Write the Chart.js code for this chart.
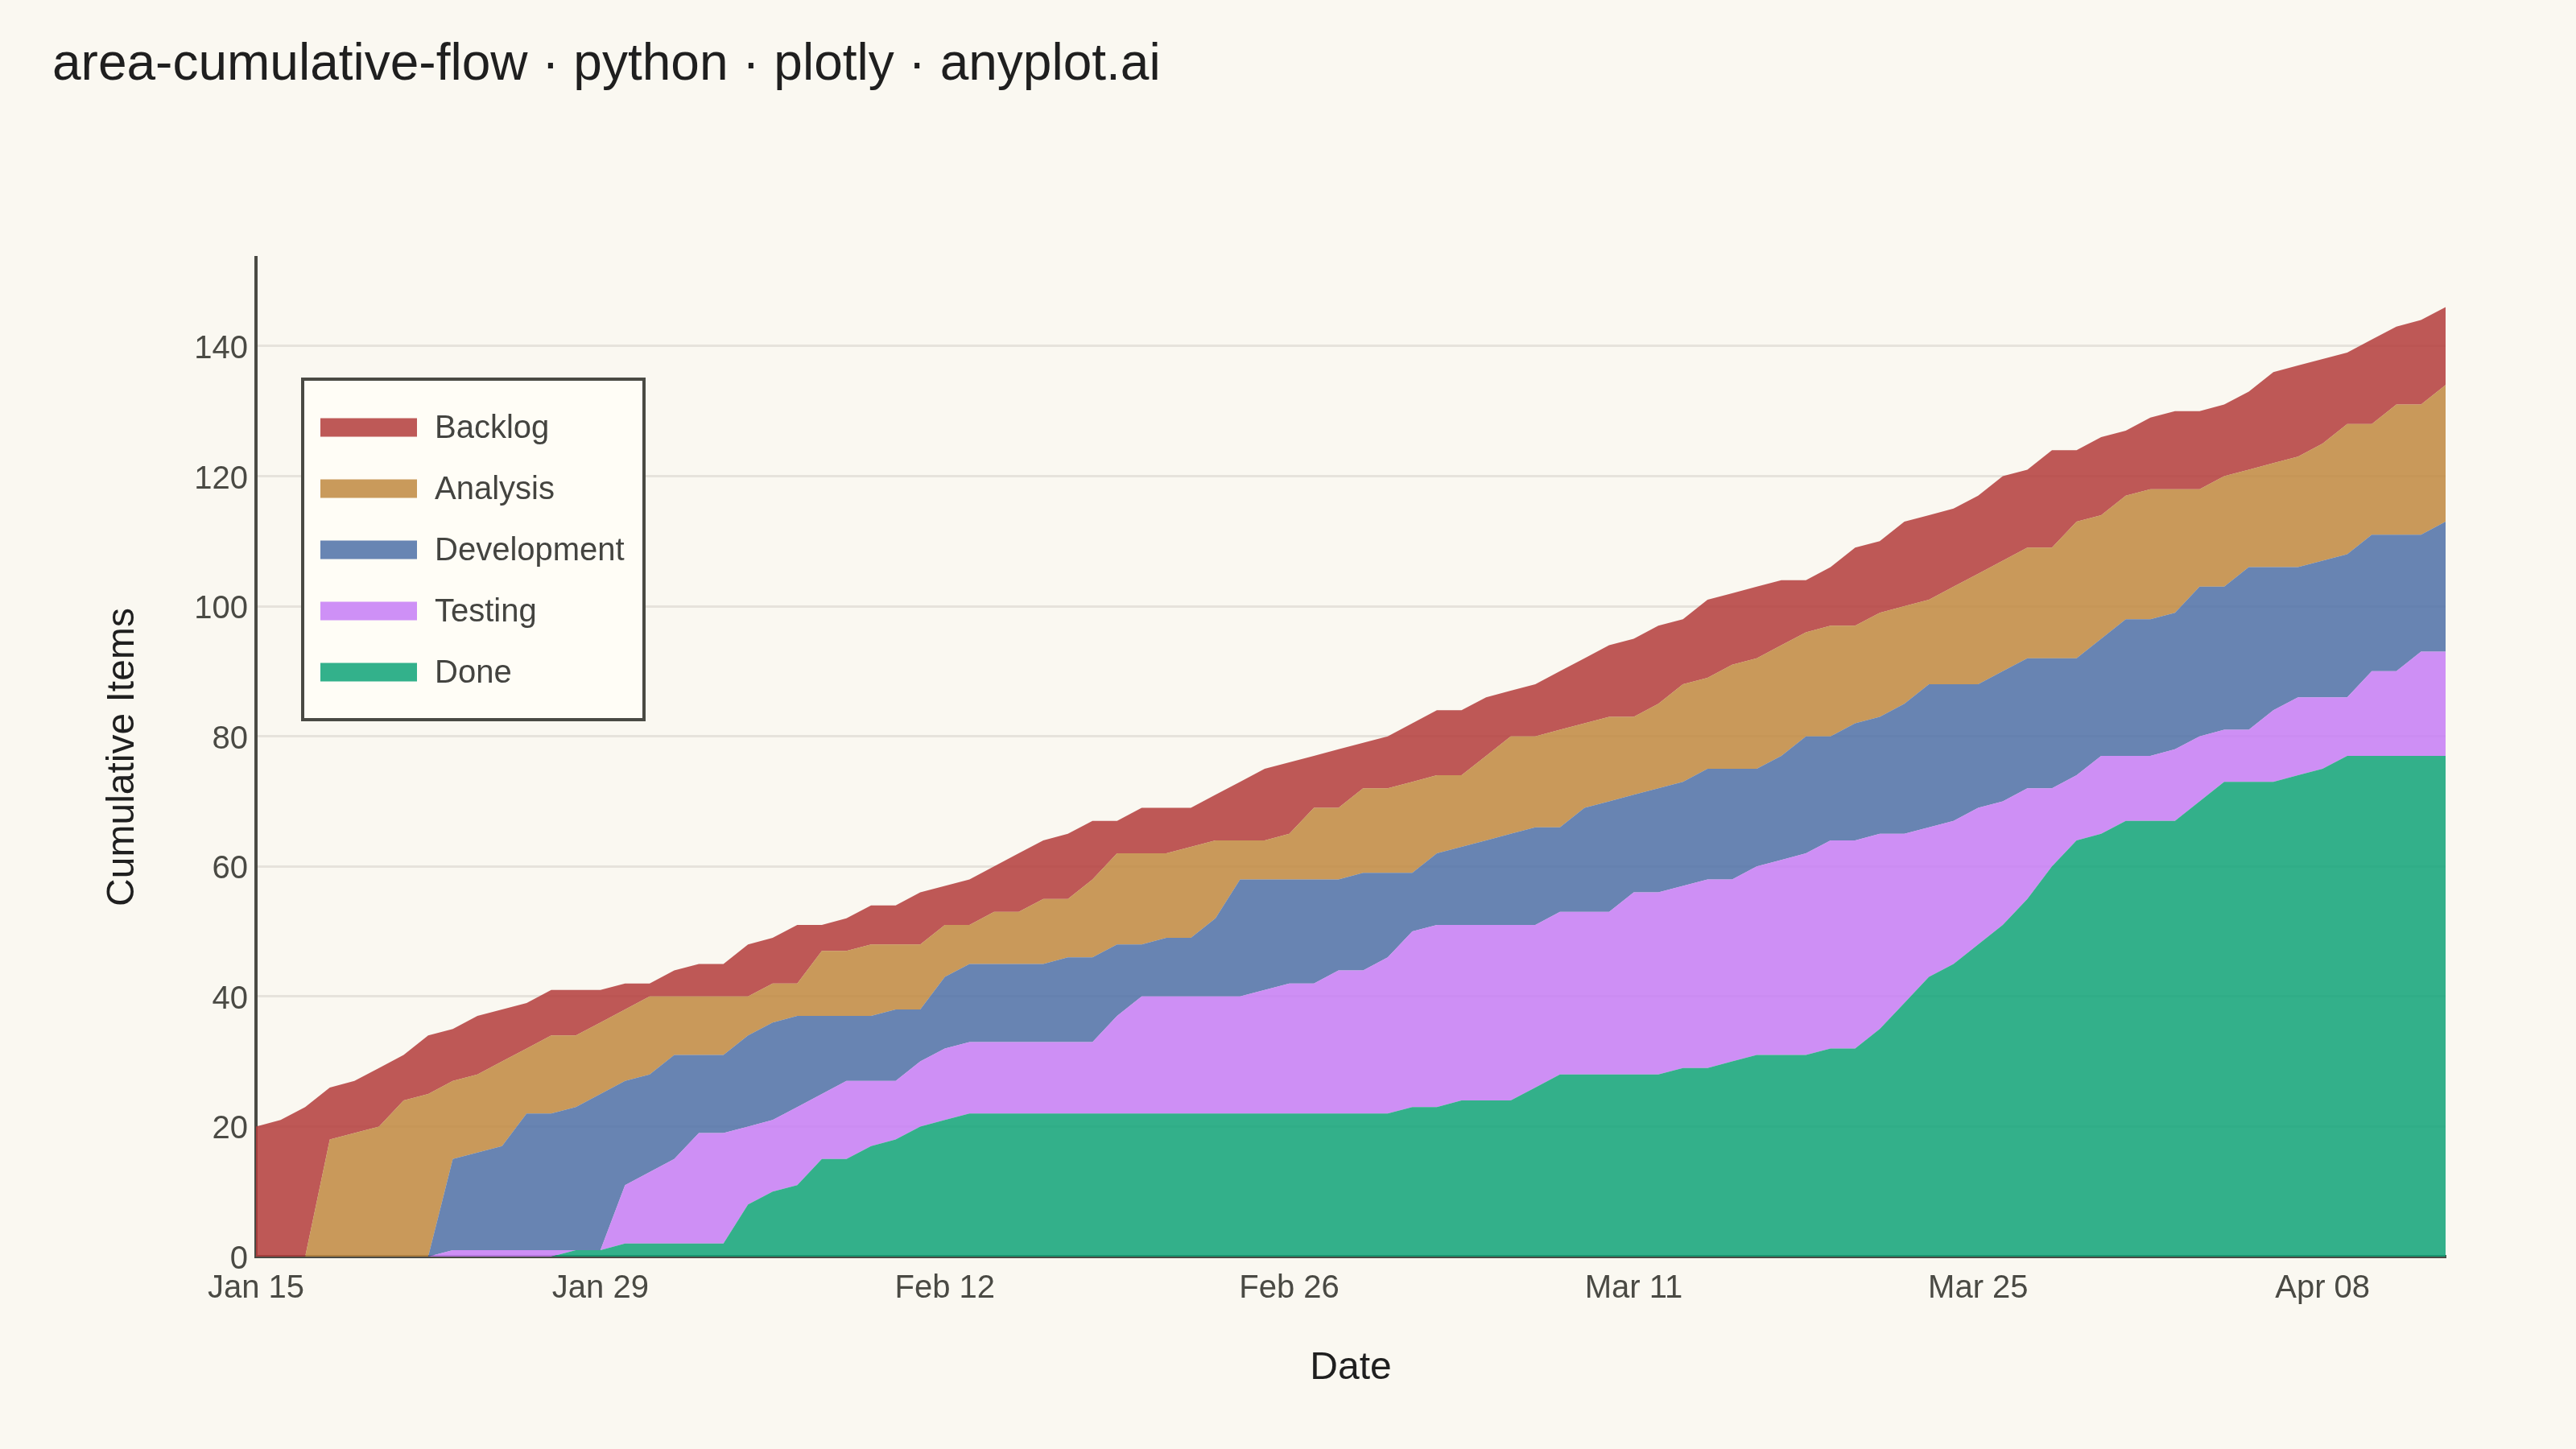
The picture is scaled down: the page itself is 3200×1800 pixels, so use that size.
<!DOCTYPE html>
<html>
<head>
<meta charset="utf-8">
<title>area-cumulative-flow</title>
<script src="https://cdn.jsdelivr.net/npm/chart.js@4.4.1/dist/chart.umd.min.js"></script>
<style>
  html, body { margin: 0; padding: 0; background: #faf8f1; }
  #chart { display: block; }
</style>
</head>
<body>
<canvas id="chart" width="3200" height="1800"></canvas>
<script>
const dayCount = 90
const tickEvery = 14
const tickLabels = ['Jan 15', 'Jan 29', 'Feb 12', 'Feb 26', 'Mar 11', 'Mar 25', 'Apr 08']
const stages = ['Done', 'Testing', 'Development', 'Analysis', 'Backlog']

// cumulative items that reached each stage, one value per day (top edge of each band)
const doneCum = [
  0, 0, 0, 0, 0, 0, 0, 0, 0, 0,
  0, 0, 0, 1, 1, 2, 2, 2, 2, 2,
  8, 10, 11, 15, 15, 17, 18, 20, 21, 22,
  22, 22, 22, 22, 22, 22, 22, 22, 22, 22,
  22, 22, 22, 22, 22, 22, 22, 23, 23, 24,
  24, 24, 26, 28, 28, 28, 28, 28, 29, 29,
  30, 31, 31, 31, 32, 32, 35, 39, 43, 45,
  48, 51, 55, 60, 64, 65, 67, 67, 67, 70,
  73, 73, 73, 74, 75, 77, 77, 77, 77, 77
]
const testingCum = [
  0, 0, 0, 0, 0, 0, 0, 0, 1, 1,
  1, 1, 1, 1, 1, 11, 13, 15, 19, 19,
  20, 21, 23, 25, 27, 27, 27, 30, 32, 33,
  33, 33, 33, 33, 33, 37, 40, 40, 40, 40,
  40, 41, 42, 42, 44, 44, 46, 50, 51, 51,
  51, 51, 51, 53, 53, 53, 56, 56, 57, 58,
  58, 60, 61, 62, 64, 64, 65, 65, 66, 67,
  69, 70, 72, 72, 74, 77, 77, 77, 78, 80,
  81, 81, 84, 86, 86, 86, 90, 90, 93, 93
]
const developmentCum = [
  0, 0, 0, 0, 0, 0, 0, 0, 15, 16,
  17, 22, 22, 23, 25, 27, 28, 31, 31, 31,
  34, 36, 37, 37, 37, 37, 38, 38, 43, 45,
  45, 45, 45, 46, 46, 48, 48, 49, 49, 52,
  58, 58, 58, 58, 58, 59, 59, 59, 62, 63,
  64, 65, 66, 66, 69, 70, 71, 72, 73, 75,
  75, 75, 77, 80, 80, 82, 83, 85, 88, 88,
  88, 90, 92, 92, 92, 95, 98, 98, 99, 103,
  103, 106, 106, 106, 107, 108, 111, 111, 111, 113
]
const analysisCum = [
  0, 0, 0, 18, 19, 20, 24, 25, 27, 28,
  30, 32, 34, 34, 36, 38, 40, 40, 40, 40,
  40, 42, 42, 47, 47, 48, 48, 48, 51, 51,
  53, 53, 55, 55, 58, 62, 62, 62, 63, 64,
  64, 64, 65, 69, 69, 72, 72, 73, 74, 74,
  77, 80, 80, 81, 82, 83, 83, 85, 88, 89,
  91, 92, 94, 96, 97, 97, 99, 100, 101, 103,
  105, 107, 109, 109, 113, 114, 117, 118, 118, 118,
  120, 121, 122, 123, 125, 128, 128, 131, 131, 134
]
const backlogCum = [
  20, 21, 23, 26, 27, 29, 31, 34, 35, 37,
  38, 39, 41, 41, 41, 42, 42, 44, 45, 45,
  48, 49, 51, 51, 52, 54, 54, 56, 57, 58,
  60, 62, 64, 65, 67, 67, 69, 69, 69, 71,
  73, 75, 76, 77, 78, 79, 80, 82, 84, 84,
  86, 87, 88, 90, 92, 94, 95, 97, 98, 101,
  102, 103, 104, 104, 106, 109, 110, 113, 114, 115,
  117, 120, 121, 124, 124, 126, 127, 129, 130, 130,
  131, 133, 136, 137, 138, 139, 141, 143, 144, 146
]

const stageColors = [
  'rgba(15, 163, 120, 0.85)',
  'rgba(197, 124, 246, 0.85)',
  'rgba(78, 112, 167, 0.85)',
  'rgba(191, 136, 63, 0.85)',
  'rgba(179, 60, 59, 0.85)'
]

// one category per day starting Jan 15 2024
const dates = []
for (let i = 0; i < dayCount; i++) {
  dates.push(new Date(Date.UTC(2024, 0, 15 + i)).toISOString().slice(0, 10))
}

const series = [doneCum, testingCum, developmentCum, analysisCum, backlogCum]

const ink = '#4a4a44'
const dark = '#1f1f1f'

Chart.defaults.font.family = '"Liberation Sans", Arial, sans-serif'

const pageBackground = {
  id: 'pageBackground',
  beforeDraw(chart) {
    const ctx = chart.ctx
    ctx.save()
    ctx.fillStyle = '#faf8f1'
    ctx.fillRect(0, 0, chart.width, chart.height)
    ctx.restore()
  }
}

// boxed legend inside the plot, top left
const legendBox = {
  id: 'legendBox',
  afterDraw(chart) {
    const ctx = chart.ctx
    ctx.save()
    ctx.fillStyle = '#fffdf6'
    ctx.fillRect(376, 471, 424, 423)
    ctx.lineWidth = 4
    ctx.strokeStyle = ink
    ctx.strokeRect(376, 471, 424, 423)
    ctx.font = '40px "Liberation Sans", Arial, sans-serif'
    ctx.textBaseline = 'middle'
    ctx.textAlign = 'left'
    chart.data.datasets.slice().reverse().forEach((ds, i) => {
      const cy = 531 + i * 76
      ctx.fillStyle = ds.backgroundColor
      ctx.fillRect(398, cy - 11.5, 120, 23)
      ctx.fillStyle = '#444440'
      ctx.fillText(ds.label, 540, cy + 2)
    })
    ctx.restore()
  }
}

new Chart(document.getElementById('chart'), {
  type: 'line',
  data: {
    labels: dates,
    datasets: stages.map((name, i) => ({
      label: name,
      data: series[i],
      backgroundColor: stageColors[i],
      borderColor: stageColors[i],
      borderWidth: 0,
      pointRadius: 0,
      pointHoverRadius: 0,
      tension: 0,
      fill: i === 0 ? 'origin' : '-1'
    }))
  },
  options: {
    responsive: false,
    devicePixelRatio: 1,
    animation: false,
    layout: { padding: { left: 65, right: 162, top: 0, bottom: 0 } },
    plugins: {
      legend: { display: false },
      tooltip: { enabled: false },
      title: {
        display: true,
        text: 'area-cumulative-flow · python · plotly · anyplot.ai',
        align: 'start',
        color: dark,
        font: { size: 64, weight: 'normal' },
        padding: { top: 42.6, bottom: 200.6 }
      }
    },
    scales: {
      x: {
        type: 'category',
        offset: false,
        grid: { display: false, drawTicks: false },
        border: { display: true, color: ink, width: 4 },
        ticks: {
          autoSkip: false,
          maxRotation: 0,
          padding: 16,
          color: ink,
          font: { size: 40 },
          callback: (v, i) => i % tickEvery === 0 ? tickLabels[i / tickEvery] : ''
        },
        title: {
          display: true,
          text: 'Date',
          color: dark,
          font: { size: 48 },
          padding: { top: 0, bottom: 71 }
        },
        afterFit: s => { s.height = 239 }
      },
      y: {
        min: 0,
        max: 153.6,
        grid: { color: '#e6e3dc', lineWidth: 3, drawTicks: false },
        border: { display: true, color: ink, width: 4 },
        ticks: {
          stepSize: 20,
          includeBounds: false,
          padding: 10,
          labelOffset: 4,
          color: ink,
          font: { size: 40 }
        },
        title: {
          display: true,
          text: 'Cumulative Items',
          color: dark,
          font: { size: 48 },
          padding: { top: 59, bottom: 0 }
        },
        afterFit: s => { s.width = 253 }
      }
    }
  },
  plugins: [pageBackground, legendBox]
})
</script>
</body>
</html>
